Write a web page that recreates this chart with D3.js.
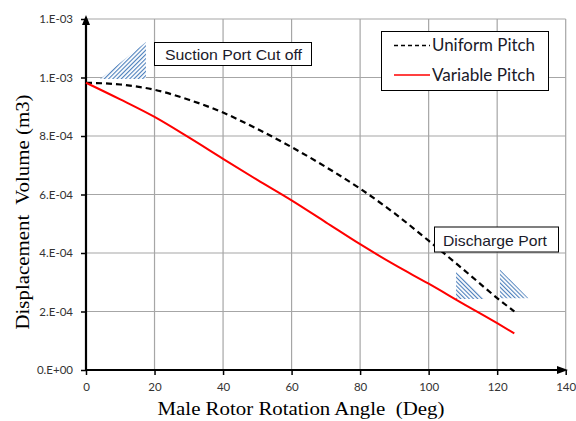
<!DOCTYPE html>
<html>
<head>
<meta charset="utf-8">
<script src="https://cdn.jsdelivr.net/npm/d3@7"></script>
<style>
  html, body { margin: 0; padding: 0; background: #fff; }
  svg { display: block; }
</style>
</head>
<body>
<svg id="chart" width="576" height="421"></svg>
<script>
// ---- data ----
const angles = [0, 10, 20, 30, 40, 50, 60, 70, 80, 90, 100, 110, 120, 125];
const uniformPitch = [9.82e-4, 9.76e-4, 9.58e-4, 9.24e-4, 8.80e-4, 8.24e-4, 7.62e-4, 6.94e-4, 6.20e-4, 5.36e-4, 4.42e-4, 3.45e-4, 2.46e-4, 2.00e-4];
const variablePitch = [9.82e-4, 9.25e-4, 8.65e-4, 7.95e-4, 7.22e-4, 6.50e-4, 5.80e-4, 5.05e-4, 4.30e-4, 3.60e-4, 2.95e-4, 2.27e-4, 1.60e-4, 1.25e-4];
const xTicks = [0, 20, 40, 60, 80, 100, 120, 140];
const yTicks = [0, 2e-4, 4e-4, 6e-4, 8e-4, 1.0e-3, 1.2e-3];
const yTickLabels = ["0.E+00", "2.E-04", "4.E-04", "6.E-04", "8.E-04", "1.E-03", "1.E-03"];
const seriesNames = ["Uniform Pitch", "Variable Pitch"];
// hatched annotation triangles, in data units [angle, volume]
const suctionTri = [[4.1, 9.95e-4], [17.5, 9.95e-4], [17.5, 1.121e-3]];
const dischargeTri1 = [[108.0, 3.36e-4], [108.0, 2.43e-4], [116.5, 2.43e-4]];
const dischargeTri2 = [[120.8, 3.44e-4], [120.8, 2.45e-4], [129.1, 2.45e-4]];

const svg = d3.select("#chart");
const x = d3.scaleLinear().domain([0, 140]).range([86, 565.7]);
const y = d3.scaleLinear().domain([0, 1.2e-3]).range([370, 19]);

// patterns
const defs = svg.append("defs");
function hatch(id, angle) {
  const p = defs.append("pattern").attr("id", id).attr("patternUnits", "userSpaceOnUse")
    .attr("width", 3).attr("height", 3).attr("patternTransform", `rotate(${angle})`);
  p.append("rect").attr("width", 3).attr("height", 3).attr("fill", "#fff");
  p.append("line").attr("x1", 0).attr("y1", 0).attr("x2", 0).attr("y2", 3)
    .attr("stroke", "#4a7ebb").attr("stroke-width", 2.2);
}
hatch("hatchA", 45);
hatch("hatchB", -45);

// gridlines
const grid = svg.append("g");
grid.selectAll(".vg").data(xTicks.slice(1)).join("line")
  .attr("x1", d => x(d)).attr("x2", d => x(d)).attr("y1", y(1.2e-3)).attr("y2", y(0))
  .attr("stroke", "#a6a6a6").attr("stroke-width", 1.2);
grid.selectAll(".hg").data(yTicks.slice(1)).join("line")
  .attr("x1", x(0)).attr("x2", x(140)).attr("y1", d => y(d)).attr("y2", d => y(d))
  .attr("stroke", "#a6a6a6").attr("stroke-width", 1.2);

// axes
const xAxis = d3.axisBottom(x).tickValues(xTicks).tickSize(5).tickPadding(8).tickFormat(d3.format("d"));
const yAxis = d3.axisLeft(y).tickValues(yTicks).tickSize(5).tickPadding(8).tickFormat((d, i) => yTickLabels[i]);
const gx = svg.append("g").attr("transform", `translate(0,${y(0)})`).call(xAxis);
const gy = svg.append("g").attr("transform", `translate(${x(0)},0)`).call(yAxis);
[gx, gy].forEach(g => {
  g.select(".domain").remove();
  g.selectAll(".tick line").attr("stroke", "#000").attr("stroke-width", 1.5);
  g.selectAll(".tick text").attr("font-family", "Lato, 'Open Sans', sans-serif")
    .attr("font-size", 11.5).attr("fill", "#333");
});
// axis lines with arrows
svg.append("line").attr("x1", x(0)).attr("x2", x(0)).attr("y1", y(0) + 1).attr("y2", 22)
  .attr("stroke", "#000").attr("stroke-width", 2.2);
svg.append("path").attr("d", `M${x(0)},15 L${x(0) - 4},25 L${x(0) + 4},25 Z`).attr("fill", "#000");
svg.append("line").attr("x1", x(0) - 1).attr("x2", 561).attr("y1", y(0)).attr("y2", y(0))
  .attr("stroke", "#000").attr("stroke-width", 2.2);
svg.append("path").attr("d", `M568,${y(0)} L557,${y(0) - 4} L557,${y(0) + 4} Z`).attr("fill", "#000");

// hatched triangles
const triPath = d3.line().x(d => x(d[0])).y(d => y(d[1]));
svg.append("path").attr("d", triPath(suctionTri) + "Z").attr("fill", "url(#hatchA)");
svg.append("path").attr("d", triPath(dischargeTri1) + "Z").attr("fill", "url(#hatchB)");
svg.append("path").attr("d", triPath(dischargeTri2) + "Z").attr("fill", "url(#hatchB)");

// series lines
const line = d3.line().x((d, i) => x(angles[i])).y(d => y(d)).curve(d3.curveMonotoneX);
svg.append("path").datum(uniformPitch).attr("d", line).attr("fill", "none")
  .attr("stroke", "#000").attr("stroke-width", 2.2).attr("stroke-dasharray", "6,4");
svg.append("path").datum(variablePitch).attr("d", line).attr("fill", "none")
  .attr("stroke", "#ff0000").attr("stroke-width", 2);

// text boxes
function box(x0, y0, w, h, text, tx, ty, len) {
  svg.append("rect").attr("x", x0).attr("y", y0).attr("width", w).attr("height", h)
    .attr("fill", "#fff").attr("stroke", "#000").attr("stroke-width", 1);
  svg.append("text").attr("x", tx).attr("y", ty).text(text)
    .attr("textLength", len).attr("lengthAdjust", "spacingAndGlyphs")
    .attr("font-family", "'Liberation Sans', Arial, sans-serif").attr("font-size", 15).attr("fill", "#1a1a2a");
}
box(154.5, 42.5, 157, 23, "Suction Port Cut off", 165, 60, 137);
box(434.5, 227, 124, 25, "Discharge Port", 443, 246, 104);

// legend
svg.append("rect").attr("x", 381.5).attr("y", 31.5).attr("width", 167).attr("height", 59)
  .attr("fill", "#fff").attr("stroke", "#000").attr("stroke-width", 1);
const legY = [45.5, 75];
svg.append("line").attr("x1", 394).attr("x2", 430).attr("y1", legY[0]).attr("y2", legY[0])
  .attr("stroke", "#000").attr("stroke-width", 1.5).attr("stroke-dasharray", "4,3");
svg.append("line").attr("x1", 394).attr("x2", 430).attr("y1", legY[1]).attr("y2", legY[1])
  .attr("stroke", "#ff0000").attr("stroke-width", 1.5);
seriesNames.forEach((s, i) => {
  svg.append("text").attr("x", 432).attr("y", legY[i] + 5.5).text(s)
    .attr("textLength", 103).attr("lengthAdjust", "spacingAndGlyphs")
    .attr("font-family", "Lato, 'Open Sans', sans-serif").attr("font-size", 16.5).attr("fill", "#1a1a2a");
});

// axis titles
svg.append("text").attr("x", 301).attr("y", 415).attr("text-anchor", "middle")
  .attr("textLength", 287).attr("lengthAdjust", "spacingAndGlyphs")
  .attr("font-family", "'Liberation Serif', 'Times New Roman', serif").attr("font-size", 19)
  .style("white-space", "pre")
  .text("Male Rotor Rotation Angle  (Deg)");
svg.append("text").attr("transform", "translate(29,212) rotate(-90)").attr("text-anchor", "middle")
  .attr("textLength", 235).attr("lengthAdjust", "spacingAndGlyphs")
  .attr("font-family", "'Liberation Serif', 'Times New Roman', serif").attr("font-size", 19)
  .style("white-space", "pre")
  .text("Displacement  Volume (m3)");
</script>
</body>
</html>
